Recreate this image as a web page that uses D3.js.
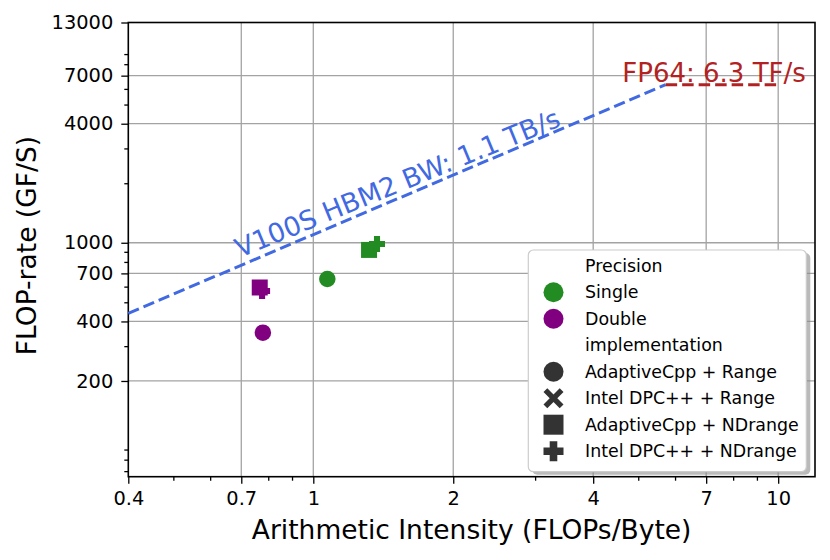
<!DOCTYPE html>
<html><head><meta charset="utf-8">
<script src="https://cdn.jsdelivr.net/npm/d3@7"></script>
<style>
html,body{margin:0;padding:0;background:#fff;}
text{font-family:"DejaVu Sans",sans-serif;}
</style></head>
<body>
<svg id="chart" width="830" height="560"></svg>
<script>
// ---- data ----
const precisions = ["Single", "Double"];
const precisionColors = ["#228B22", "#800080"];
const implementations = ["AdaptiveCpp + Range", "Intel DPC++ + Range", "AdaptiveCpp + NDrange", "Intel DPC++ + NDrange"];
const implSymbols = ["circle", "cross", "square", "plus"];
// points: precision, implementation, AI, GFLOP/s
const pointPrecision = ["Double", "Double", "Double", "Single", "Single", "Single"];
const pointImpl = ["AdaptiveCpp + NDrange", "Intel DPC++ + NDrange", "AdaptiveCpp + Range", "AdaptiveCpp + Range", "AdaptiveCpp + NDrange", "Intel DPC++ + NDrange"];
const pointAI = [0.767, 0.776, 0.779, 1.072, 1.318, 1.371];
const pointFlops = [594, 570, 351, 656, 920, 986];
// roofline
const bwX = [0.4, 5.727];
const bwY = [440, 6300];
const peakX = [5.727, 10];
const peakY = [6300, 6300];
const bwLabel = "V100S HBM2 BW: 1.1 TB/s";
const peakLabel = "FP64: 6.3 TF/s";
// ticks
const xTicks = [0.4, 0.7, 1, 2, 4, 7, 10];
const xMinor = [0.5, 0.6, 0.8, 0.9, 3, 5, 6, 8, 9];
const yTicks = [200, 400, 700, 1000, 4000, 7000, 13000];
const yMinor = [70, 80, 90, 300, 500, 600, 800, 900, 2000, 3000, 5000, 6000, 8000, 9000];

// ---- layout ----
const L = 128.3, R = 815, T = 22.5, B = 476.7;
const svg = d3.select("#chart");
const x = d3.scaleLog().domain([0.4, 12]).range([L, R]);
const y = d3.scaleLog().domain([65.6, 13000]).range([B, T]);

// grid
const grid = svg.append("g");
grid.selectAll("line.vx").data(xTicks.slice(1)).join("line")
  .attr("x1", d => x(d)).attr("x2", d => x(d)).attr("y1", T).attr("y2", B)
  .attr("stroke", "#a3a3a3").attr("stroke-width", 1.3);
grid.selectAll("line.hy").data(yTicks.slice(0, -1)).join("line")
  .attr("y1", d => y(d)).attr("y2", d => y(d)).attr("x1", L).attr("x2", R)
  .attr("stroke", "#a3a3a3").attr("stroke-width", 1.3);

// axes
const fmt = d => String(d);
const xAxis = d3.axisBottom(x).tickValues(xTicks).tickFormat(fmt).tickSize(7).tickPadding(8);
const yAxis = d3.axisLeft(y).tickValues(yTicks).tickFormat(fmt).tickSize(7).tickPadding(8);
const gx = svg.append("g").attr("transform", `translate(0,${B})`).call(xAxis);
const gy = svg.append("g").attr("transform", `translate(${L},0)`).call(yAxis);
gx.append("g").call(d3.axisBottom(x).tickValues(xMinor).tickFormat("").tickSize(4));
gy.append("g").call(d3.axisLeft(y).tickValues(yMinor).tickFormat("").tickSize(4));
[gx, gy].forEach(g => {
  g.selectAll(".domain").remove();
  g.selectAll("line").attr("stroke", "#000").attr("stroke-width", 1.3);
  g.selectAll("text").attr("fill", "#000").style("font-size", "19.4px").style("font-family", "DejaVu Sans");
});
// frame
svg.append("rect").attr("x", L).attr("y", T).attr("width", R - L).attr("height", B - T)
  .attr("fill", "none").attr("stroke", "#000").attr("stroke-width", 1.6);

// axis labels
svg.append("text").attr("x", (L + R) / 2).attr("y", 538.5).attr("text-anchor", "middle")
  .style("font-size", "26.5px").text("Arithmetic Intensity (FLOPs/Byte)");
svg.append("text").attr("transform", `translate(36,${(T + B) / 2 - 4}) rotate(-90)`).attr("text-anchor", "middle")
  .style("font-size", "26.5px").text("FLOP-rate (GF/S)");

// roofline
const line = d3.line().x(d => x(d[0])).y(d => y(d[1]));
svg.append("path").attr("d", line(d3.zip(bwX, bwY))).attr("fill", "none")
  .attr("stroke", "#4169E1").attr("stroke-width", 3).attr("stroke-dasharray", "11.5,5");
svg.append("path").attr("d", line(d3.zip(peakX, peakY))).attr("fill", "none")
  .attr("stroke", "#B22222").attr("stroke-width", 3).attr("stroke-dasharray", "11.5,5");

// labels on the roofline
const bx = x(0.695), by = y(838);
const ang = -Math.atan2(y(bwY[0]) - y(bwY[1]), x(bwX[1]) - x(bwX[0])) * 180 / Math.PI + 0.7;
svg.append("text").attr("transform", `translate(${bx},${by}) rotate(${ang})`)
  .attr("fill", "#4169E1").style("font-size", "26.6px").text(bwLabel);
svg.append("text").attr("x", x(4.62)).attr("y", y(6500))
  .attr("fill", "#B22222").style("font-size", "26px").text(peakLabel);

// markers
function markerPath(sym, s) {
  const h = s / 2, a = s * 0.19;
  if (sym === "circle") return d3.symbol(d3.symbolCircle, Math.PI * h * h)();
  if (sym === "square") return `M${-h},${-h}H${h}V${h}H${-h}Z`;
  if (sym === "plus") return `M${-a},${-h}H${a}V${-a}H${h}V${a}H${a}V${h}H${-a}V${a}H${-h}V${-a}H${-a}Z`;
  const t = a;
  return `M${-h},${-h + t}L${-h + t},${-h}L0,${-t}L${h - t},${-h}L${h},${-h + t}L${t},0L${h},${h - t}L${h - t},${h}L0,${t}L${-h + t},${h}L${-h},${h - t}L${-t},0Z`;
}
const pts = pointAI.map((v, i) => ({ ai: v, f: pointFlops[i], p: pointPrecision[i], impl: pointImpl[i] }));
svg.append("g").selectAll("path").data(pts).join("path")
  .attr("transform", d => `translate(${x(d.ai)},${y(d.f)})`)
  .attr("d", d => markerPath(implSymbols[implementations.indexOf(d.impl)], implSymbols[implementations.indexOf(d.impl)] === "circle" ? 16.5 : 16))
  .attr("fill", d => precisionColors[precisions.indexOf(d.p)]);

// legend
const lg = svg.append("g");
const lx = 528.3, ly = 250, lw = 278, lh = 221.7;
lg.append("rect").attr("x", lx + 4).attr("y", ly + 3).attr("width", lw).attr("height", lh).attr("rx", 5)
  .attr("fill", "#8c8c8c").attr("opacity", 0.6);
lg.append("rect").attr("x", lx).attr("y", ly).attr("width", lw).attr("height", lh).attr("rx", 5)
  .attr("fill", "#fff").attr("stroke", "#cccccc").attr("stroke-width", 1.2);
const rows = [{ t: "Precision" }]
  .concat(precisions.map((p, i) => ({ t: p, sym: "circle", c: precisionColors[i] })))
  .concat([{ t: "implementation" }])
  .concat(implementations.map((m, i) => ({ t: m, sym: implSymbols[i], c: "#333333" })));
const rowY0 = 265.7, rowDy = 26.5;
rows.forEach((r, i) => {
  const cy = rowY0 + i * rowDy;
  if (r.sym) lg.append("path").attr("transform", `translate(553.5,${cy})`).attr("d", markerPath(r.sym, 20)).attr("fill", r.c);
  lg.append("text").attr("x", 585).attr("y", cy).attr("dy", "0.36em").style("font-size", "17.4px").attr("fill", "#000").text(r.t);
});
</script>
</body></html>
